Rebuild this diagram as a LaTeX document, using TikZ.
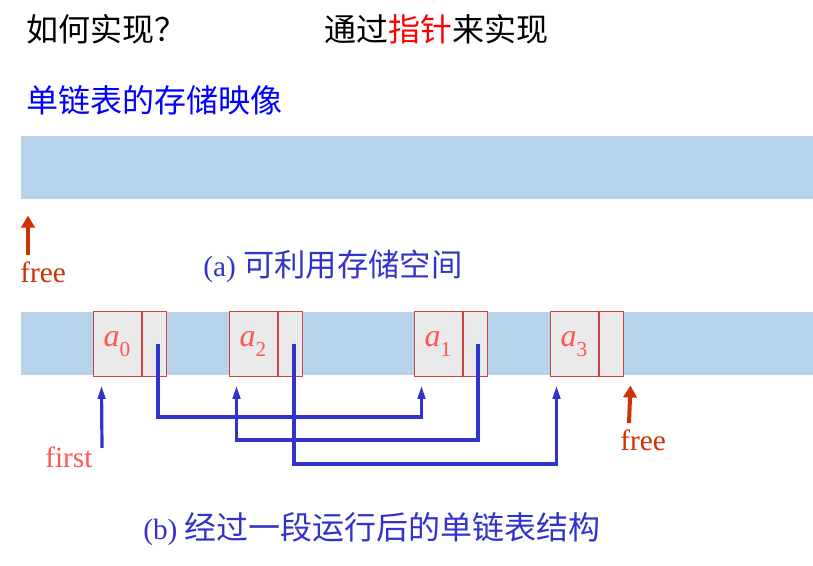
\documentclass[tikz,border=0pt]{standalone}
\usepackage{fontspec}
\setmainfont{Liberation Serif}
\newfontfamily\cjk{Noto Sans CJK SC}
\usetikzlibrary{arrows.meta,calc}
\definecolor{bandblue}{HTML}{B8D4EC}
\definecolor{cellgray}{HTML}{EAEAEA}
\definecolor{cellred}{HTML}{CC4444}
\definecolor{labred}{HTML}{FF5555}
\definecolor{freered}{HTML}{CC3300}
\definecolor{ptrblue}{HTML}{3333CC}
\newcommand\elem[1]{\textit{a}\raisebox{-0.32em}{\fontsize{16}{18}\selectfont #1}}
\tikzset{
  band/.style={fill=bandblue, draw=none, minimum width=594pt, minimum height=47.25pt, inner sep=0, anchor=north west},
  datacell/.style={draw=cellred, fill=cellgray, line width=0.75pt, minimum width=36pt, minimum height=48pt, inner sep=0, text=labred, font=\fontsize{24}{28}\selectfont},
  ptrcell/.style={draw=cellred, fill=cellgray, line width=0.75pt, minimum width=18pt, minimum height=48pt, inner sep=0, anchor=west},
  ptr/.style={draw=ptrblue, line width=2.4pt, -{Triangle[length=10pt,width=5.5pt]}},
  freearrow/.style={draw=freered, line width=3pt, -{Triangle[length=9pt,width=10pt]}},
  freetext/.style={text=freered, font=\fontsize{22}{26}\selectfont, inner sep=0, anchor=base west},
  cjktext/.style={font=\cjk\fontsize{24}{28}\selectfont, inner sep=0, anchor=base west},
  caption/.style={text=ptrblue, inner sep=0, anchor=base west}
}
\begin{document}
\begin{tikzpicture}[x=0.75pt,y=-0.75pt]
\useasboundingbox (0,0) rectangle (813,566);
% headings
\node[cjktext] (q) at (26,42) {如何实现？};
\node[cjktext] (ans) at (324,42) {通过\textcolor{red}{指针}来实现};
\node[cjktext, text={rgb,255:red,0;green,0;blue,255}] (title) at (26,113) {单链表的存储映像};
% (a) free memory
\node[band] (mem1) at (21,136) {};
\coordinate (f1s) at (28,255);
\draw[freearrow] (f1s) -- ([xshift=5.25pt,yshift=-12pt]mem1.south west);
\node[freetext] (free1) at (20,283) {free};
\node[caption] (capa) at (203,277) {\fontsize{22}{26}\selectfont(a) \cjk\fontsize{23.5}{28}\selectfont 可利用存储空间};
% (b) linked list
\node[band] (mem2) at (21,312) {};
\node[datacell] (a0) at (117,344) {\elem{0}};
\node[ptrcell] (p0) at (a0.east) {};
\node[datacell] (a2) at (253,344) {\elem{2}};
\node[ptrcell] (p2) at (a2.east) {};
\node[datacell] (a1) at (438,344) {\elem{1}};
\node[ptrcell] (p1) at (a1.east) {};
\node[datacell] (a3) at (574,344) {\elem{3}};
\node[ptrcell] (p3) at (a3.east) {};
% pointers
\draw[ptr] ([xshift=3pt]p0.center) -- ++(0,73) -| ([xshift=6pt,yshift=-6.75pt]a1.south west);
\draw[ptr] ([xshift=2.25pt]p1.center) -- ++(0,96) -| ([xshift=6pt,yshift=-6.75pt]a2.south west);
\draw[ptr] ([xshift=3pt]p2.center) -- ++(0,120) -| ([xshift=5.25pt,yshift=-6.75pt]a3.south west);
\coordinate (fs) at (102,448);
\draw[ptr] (fs) -- ([xshift=6.75pt,yshift=-6.75pt]a0.south west);
\node[freetext, text=labred] (first) at (45,467) {first};
\coordinate (f2s) at (629,423);
\draw[freearrow] (f2s) -- ([xshift=5.25pt,yshift=-6.75pt]p3.south east);
\node[freetext] (free2) at (620,450) {free};
\node[caption] (capb) at (143,539) {\fontsize{22}{26}\selectfont(b) \cjk\fontsize{24}{28}\selectfont 经过一段运行后的单链表结构};
\end{tikzpicture}
\end{document}
